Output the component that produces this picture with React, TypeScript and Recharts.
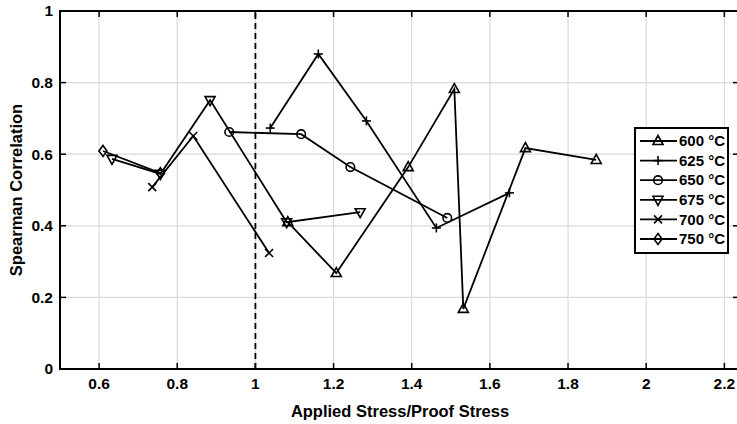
import React from "react";
import {
  LineChart,
  Line,
  XAxis,
  YAxis,
  CartesianGrid,
  ReferenceLine,
  ReferenceArea,
} from "recharts";

const xTicks = [0.6, 0.8, 1, 1.2, 1.4, 1.6, 1.8, 2, 2.2];
const yTicks = [0, 0.2, 0.4, 0.6, 0.8, 1];

const seriesNames = ["600 °C", "625 °C", "650 °C", "675 °C", "700 °C", "750 °C"];
const markerKinds = ["triUp", "plus", "circle", "triDown", "cross", "diamond"];

const s600 = [
  { x: 1.083, y: 0.41 },
  { x: 1.207, y: 0.268 },
  { x: 1.391, y: 0.564 },
  { x: 1.509, y: 0.782 },
  { x: 1.532, y: 0.168 },
  { x: 1.691, y: 0.617 },
  { x: 1.872, y: 0.584 },
];
const s625 = [
  { x: 1.038, y: 0.673 },
  { x: 1.161, y: 0.88 },
  { x: 1.284, y: 0.693 },
  { x: 1.463, y: 0.394 },
  { x: 1.65, y: 0.492 },
];
const s650 = [
  { x: 0.933, y: 0.662 },
  { x: 1.117, y: 0.656 },
  { x: 1.243, y: 0.564 },
  { x: 1.491, y: 0.422 },
];
const s675 = [
  { x: 0.633, y: 0.587 },
  { x: 0.757, y: 0.545 },
  { x: 0.884, y: 0.751 },
  { x: 1.08, y: 0.41 },
  { x: 1.268, y: 0.438 },
];
const s700 = [
  { x: 0.736, y: 0.508 },
  { x: 0.841, y: 0.651 },
  { x: 1.035, y: 0.324 },
];
const s750 = [
  { x: 0.61, y: 0.609 },
  { x: 0.757, y: 0.547 },
];

const allSeries = [s600, s625, s650, s675, s700, s750];

const W = 760;
const H = 424;
const TOP = 11;
const BOTTOM = 369;
const LEFT = 60;
const RIGHT = 740;
const FONT = "'Liberation Sans', Arial, Helvetica, sans-serif";

function Marker({ kind, cx, cy }: { kind: string; cx: number; cy: number }) {
  const st = { stroke: "#000", strokeWidth: 1.6, fill: "none" } as any;
  switch (kind) {
    case "triUp":
      return <polygon points={`${cx},${cy - 5.5} ${cx - 5},${cy + 3.5} ${cx + 5},${cy + 3.5}`} {...st} />;
    case "triDown":
      return <polygon points={`${cx},${cy + 5.5} ${cx - 5},${cy - 3.5} ${cx + 5},${cy - 3.5}`} {...st} />;
    case "circle":
      return <circle cx={cx} cy={cy} r={4.3} {...st} />;
    case "plus":
      return (
        <g {...st}>
          <line x1={cx - 4.5} x2={cx + 4.5} y1={cy} y2={cy} />
          <line x1={cx} x2={cx} y1={cy - 4.5} y2={cy + 4.5} />
        </g>
      );
    case "cross":
      return (
        <g {...st}>
          <line x1={cx - 4} x2={cx + 4} y1={cy - 4} y2={cy + 4} />
          <line x1={cx - 4} x2={cx + 4} y1={cy + 4} y2={cy - 4} />
        </g>
      );
    case "diamond":
      return <polygon points={`${cx},${cy - 5.5} ${cx + 4},${cy} ${cx},${cy + 5.5} ${cx - 4},${cy}`} {...st} />;
    default:
      return null;
  }
}

const makeDot = (kind: string) => (props: any) => {
  const { cx, cy, index } = props;
  if (cx == null || cy == null) return <g key={`d-${index}`} />;
  return (
    <g key={`d-${kind}-${index}`}>
      <Marker kind={kind} cx={cx} cy={cy} />
    </g>
  );
};

const fmt = (v: number) => String(v);

const XTick = (p: any) => {
  const x = p.x;
  return (
    <g>
      <line x1={x} x2={x} y1={BOTTOM} y2={BOTTOM - 6} stroke="#000" strokeWidth={1.5} />
      <line x1={x} x2={x} y1={TOP} y2={TOP + 6} stroke="#000" strokeWidth={1.5} />
      <text
        x={x}
        y={389}
        textAnchor="middle"
        fontFamily={FONT}
        fontWeight="bold"
        fontSize={15.5}
        fill="#000"
      >
        {fmt(p.payload.value)}
      </text>
    </g>
  );
};

const YTick = (p: any) => {
  const y = p.y;
  return (
    <g>
      <line x1={LEFT} x2={LEFT + 6} y1={y} y2={y} stroke="#000" strokeWidth={1.5} />
      <line x1={RIGHT} x2={RIGHT - 7} y1={y} y2={y} stroke="#000" strokeWidth={1.5} />
      <text
        x={53}
        y={y}
        dy="0.35em"
        textAnchor="end"
        fontFamily={FONT}
        fontWeight="bold"
        fontSize={15.5}
        fill="#000"
      >
        {fmt(p.payload.value)}
      </text>
    </g>
  );
};

const LegendBox = () => {
  const rowH = 19.6;
  return (
    <svg width={98} height={130} style={{ display: "block" }}>
      <rect x={1} y={1} width={93} height={125} fill="#fff" stroke="#000" strokeWidth={2} />
      {seriesNames.map((name, i) => {
        const cy = 14 + i * rowH;
        return (
          <g key={name}>
            <line x1={6} x2={43} y1={cy} y2={cy} stroke="#000" strokeWidth={1.8} />
            <Marker kind={markerKinds[i]} cx={24} cy={cy} />
            <text
              x={45}
              y={cy}
              dy="0.35em"
              fontFamily={FONT}
              fontWeight="bold"
              fontSize={15}
              fill="#000"
            >
              {name}
            </text>
          </g>
        );
      })}
    </svg>
  );
};

export default function App() {
  return (
    <div
      style={{
        position: "absolute",
        left: 0,
        top: 0,
        width: 737,
        height: 424,
        overflow: "hidden",
        background: "#fff",
      }}
    >
      <LineChart
        width={W}
        height={H}
        margin={{ top: TOP, right: W - RIGHT, bottom: 0, left: 0 }}
      >
        <CartesianGrid stroke="#d9d9d9" strokeWidth={1.2} />
        <XAxis
          type="number"
          dataKey="x"
          domain={[0.5, 2.24]}
          ticks={xTicks}
          allowDataOverflow
          height={H - BOTTOM}
          tickLine={false}
          axisLine={false}
          tick={<XTick />}
          interval={0}
          label={{
            value: "Applied Stress/Proof Stress",
            position: "insideBottom",
            offset: 7,
            style: { fontFamily: FONT, fontWeight: "bold", fontSize: 16.5, fill: "#000" },
          }}
        />
        <YAxis
          type="number"
          dataKey="y"
          domain={[0, 1]}
          ticks={yTicks}
          allowDataOverflow
          width={LEFT}
          tickLine={false}
          axisLine={false}
          tick={<YTick />}
          interval={0}
          label={{
            value: "Spearman Correlation",
            angle: -90,
            position: "insideLeft",
            offset: 16,
            style: {
              textAnchor: "middle",
              fontFamily: FONT,
              fontWeight: "bold",
              fontSize: 16.5,
              fill: "#000",
            },
          }}
        />
        <ReferenceArea
          x1={0.5}
          x2={2.24}
          y1={0}
          y2={1}
          fill="none"
          fillOpacity={0}
          stroke="#000"
          strokeWidth={2}
        />
        <ReferenceLine
          x={1}
          stroke="#000"
          strokeWidth={1.8}
          strokeDasharray="6 4"
        />
        {allSeries.map((data, i) => (
          <Line
            key={seriesNames[i]}
            data={data}
            dataKey="y"
            name={seriesNames[i]}
            type="linear"
            stroke="#000"
            strokeWidth={1.8}
            dot={makeDot(markerKinds[i])}
            activeDot={false}
            isAnimationActive={false}
            legendType="none"
          />
        ))}
      </LineChart>
      <div style={{ position: "absolute", left: 634, top: 127 }}>
        <LegendBox />
      </div>
    </div>
  );
}
